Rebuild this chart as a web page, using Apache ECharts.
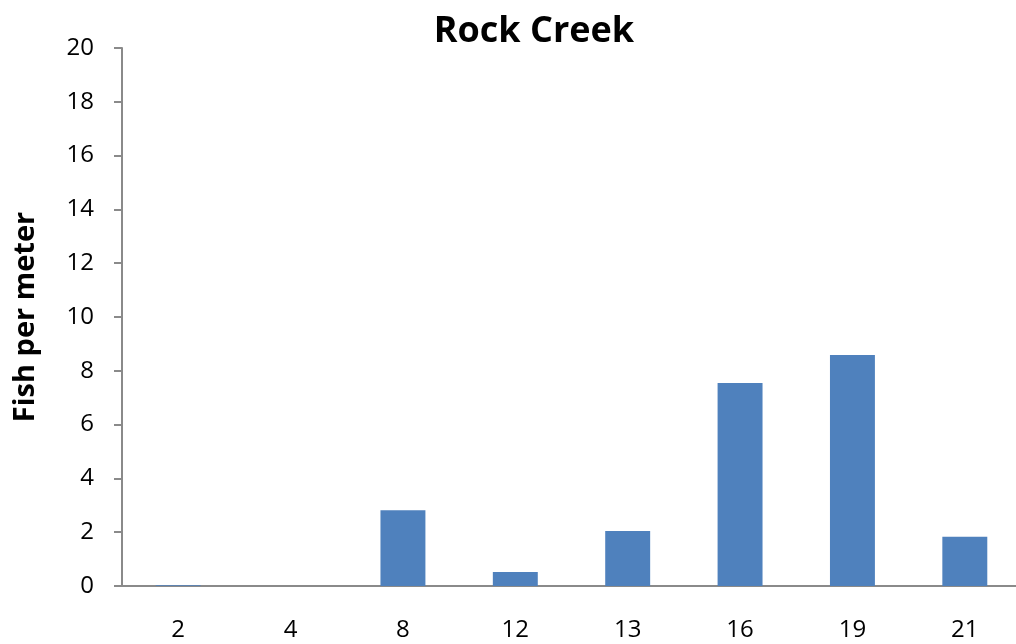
<!DOCTYPE html>
<html>
<head>
<meta charset="utf-8">
<script src="https://cdn.jsdelivr.net/npm/echarts@6/dist/echarts.min.js"></script>
<style>
  html, body { margin: 0; padding: 0; background: #fff; overflow: hidden; width: 1016px; height: 644px; }
  /* canvas is a little wider than the page, so the plot area runs past the right edge */
  #chart { width: 1021px; height: 644px; }
</style>
</head>
<body>
<div id="chart"></div>
<script>
// Site numbers along Rock Creek and fish density at each
const sites = ['2', '4', '8', '12', '13', '16', '19', '21'];
const fishPerMeter = [0.03, 0, 2.82, 0.52, 2.04, 7.55, 8.59, 1.83];

const FONT = '"Open Sans", "Liberation Sans", sans-serif';

const chart = echarts.init(document.getElementById('chart'), null, { renderer: 'canvas' });
chart.setOption({
  animation: false,
  backgroundColor: '#ffffff',
  title: {
    text: 'Rock Creek',
    left: 529,
    textAlign: 'center',
    top: 9,
    textStyle: { fontFamily: FONT, fontWeight: 'bold', fontSize: 36, color: '#000' }
  },
  grid: { left: 122, right: 0, top: 48, bottom: 58 },
  xAxis: {
    type: 'category',
    data: sites,
    axisLine: { lineStyle: { color: '#8a8a8a', width: 2 } },
    axisTick: { show: false },
    axisLabel: { fontFamily: FONT, fontSize: 24, color: '#000', margin: 32 }
  },
  yAxis: {
    type: 'value',
    min: 0,
    max: 20,
    interval: 2,
    name: 'Fish per meter',
    nameLocation: 'middle',
    nameGap: 82,
    nameTextStyle: { fontFamily: FONT, fontWeight: 'bold', fontSize: 29, color: '#000' },
    axisLine: { show: true, lineStyle: { color: '#8a8a8a', width: 2 } },
    axisTick: { show: true, length: 8, lineStyle: { color: '#8a8a8a', width: 2 } },
    splitLine: { show: false },
    axisLabel: { fontFamily: FONT, fontSize: 24, color: '#000', margin: 28 }
  },
  series: [{
    type: 'bar',
    data: fishPerMeter,
    barWidth: '40%',
    itemStyle: { color: '#4f81bd' }
  }]
});
</script>
</body>
</html>
